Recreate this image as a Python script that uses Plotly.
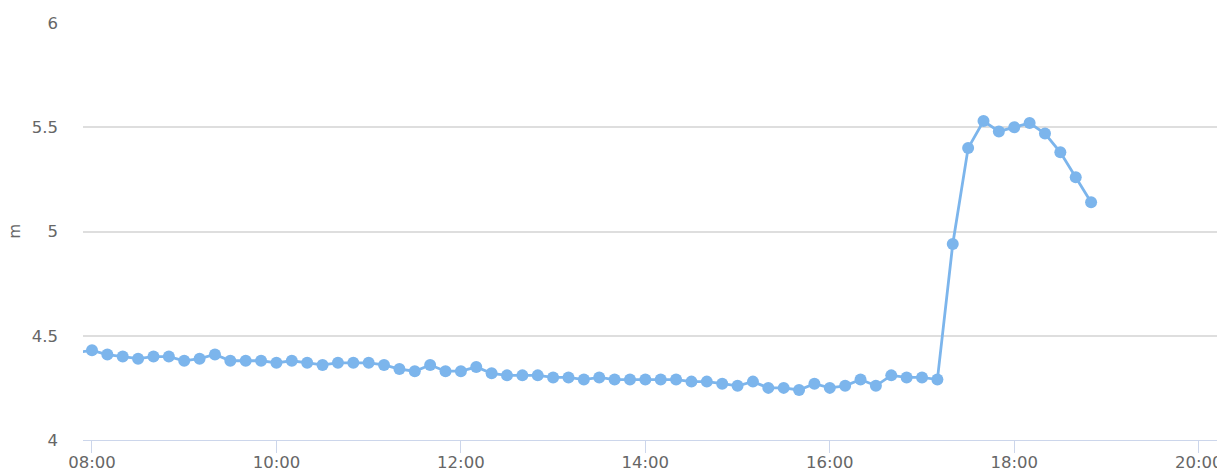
import pandas as pd
import plotly.graph_objects as go

# Data: water level (m), sampled every 10 minutes starting 07:50
start_time = "2024-01-01 07:50"
step = "10min"
levels = [
    4.42,
    4.43, 4.41, 4.40, 4.39, 4.40, 4.40,
    4.38, 4.39, 4.41, 4.38, 4.38, 4.38,
    4.37, 4.38, 4.37, 4.36, 4.37, 4.37,
    4.37, 4.36, 4.34, 4.33, 4.36, 4.33,
    4.33, 4.35, 4.32, 4.31, 4.31, 4.31,
    4.30, 4.30, 4.29, 4.30, 4.29, 4.29,
    4.29, 4.29, 4.29, 4.28, 4.28, 4.27,
    4.26, 4.28, 4.25, 4.25, 4.24, 4.27,
    4.25, 4.26, 4.29, 4.26, 4.31, 4.30,
    4.30, 4.29, 4.94, 5.40, 5.53, 5.48,
    5.50, 5.52, 5.47, 5.38, 5.26, 5.14,
]
times = pd.date_range(start=start_time, periods=len(levels), freq=step)

x_range = ["2024-01-01 07:54:09", "2024-01-01 20:17:07"]
y_range = [4, 6]
y_ticks = [4, 4.5, 5, 5.5, 6]
y_tick_text = ["4", "4.5", "5", "5.5", "6"]
y_title = "m"

series_color = "#7cb5ec"
label_color = "#666666"
font_family = "DejaVu Sans"

fig = go.Figure()
fig.add_trace(go.Scatter(
    x=times, y=levels, mode="lines+markers",
    line=dict(color=series_color, width=2.8),
    marker=dict(color=series_color, size=12, line=dict(width=0)),
    showlegend=False,
))

# page body has an 8px default margin, so the figure is sized to fit
fig.update_layout(
    width=1217, height=465,
    margin=dict(l=75, r=0, t=15, b=33),
    plot_bgcolor="white", paper_bgcolor="white",
    font=dict(family=font_family, size=15, color=label_color),
    xaxis=dict(
        type="date", range=x_range, automargin=False,
        dtick=2 * 3600 * 1000, tick0="2024-01-01 00:00",
        tickformat="%H:%M",
        showgrid=False, zeroline=False,
        showline=True, linecolor="#ccd6eb", linewidth=1.4,
        ticks="outside", ticklen=12, tickcolor="#ccd6eb", tickwidth=1.4,
        ticklabelstandoff=-5,
        tickfont=dict(family=font_family, size=16.5, color=label_color),
    ),
    yaxis=dict(
        range=y_range, tickvals=y_ticks, ticktext=y_tick_text,
        automargin=False,
        showgrid=True, gridcolor="#dedede", gridwidth=1.6,
        zeroline=False, showline=False, ticks="",
        ticklabelstandoff=24,
        tickfont=dict(family=font_family, size=16.5, color=label_color),
    ),
    annotations=[dict(
        text=y_title, textangle=-90, showarrow=False,
        xref="paper", yref="paper",
        x=-(83 - 14) / 1142, y=0.5, xanchor="center", yanchor="middle",
        font=dict(family=font_family, size=15, color=label_color),
    )],
)

fig.write_html("out.html")
